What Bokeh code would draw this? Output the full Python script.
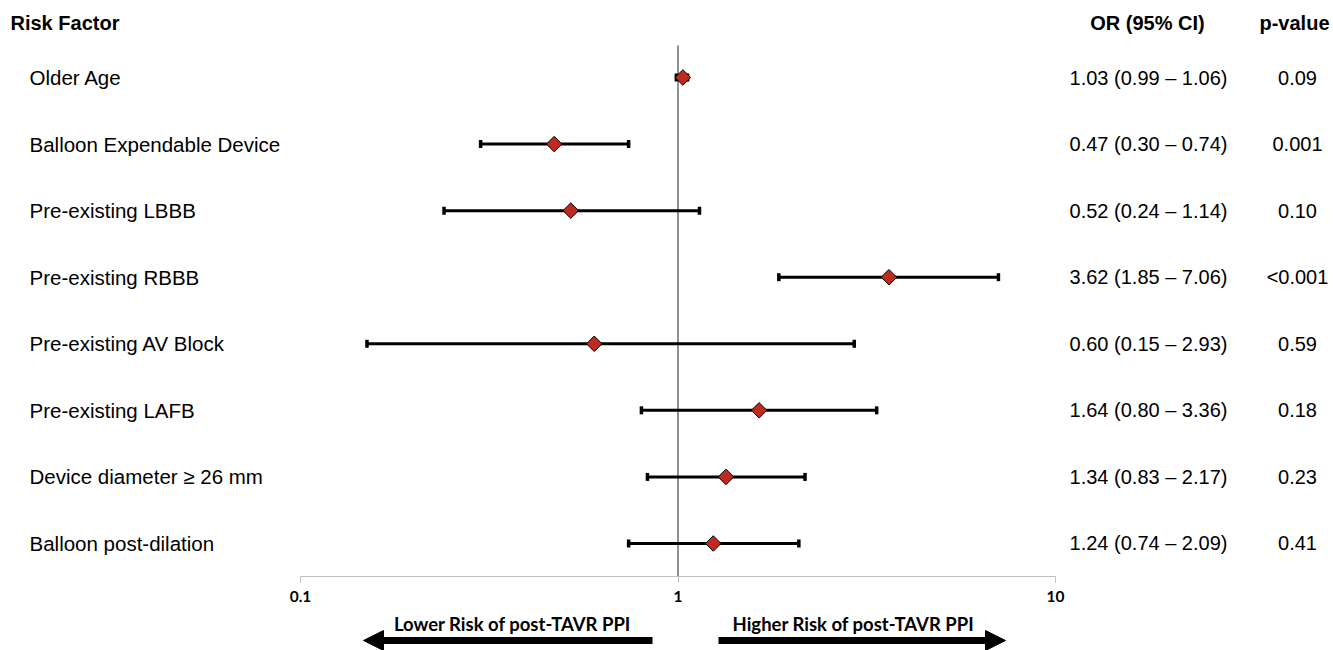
import numpy as np
from bokeh.plotting import figure
from bokeh.layouts import column
from bokeh.models import Range1d, FixedTicker, CustomJSTickFormatter, Arrow, NormalHead, ColumnDataSource
from bokeh.core.properties import value
from bokeh.embed import file_html
from bokeh.resources import INLINE

# ---- data ----
factors = ["Older Age", "Balloon Expendable Device", "Pre-existing LBBB", "Pre-existing RBBB",
           "Pre-existing AV Block", "Pre-existing LAFB", "Device diameter \u2265 26 mm", "Balloon post-dilation"]
odds = [1.03, 0.47, 0.52, 3.62, 0.60, 1.64, 1.34, 1.24]
ci_low = [0.99, 0.30, 0.24, 1.85, 0.15, 0.80, 0.83, 0.74]
ci_high = [1.06, 0.74, 1.14, 7.06, 2.93, 3.36, 2.17, 2.09]
p_values = ["0.09", "0.001", "0.10", "<0.001", "0.59", "0.18", "0.23", "0.41"]
tick_values = [0.1, 1, 10]
left_label = "Lower Risk of post-TAVR PPI"
right_label = "Higher Risk of post-TAVR PPI"

rows = list(range(len(factors)))
or_text = [f"{o:.2f} ({l:.2f} \u2013 {h:.2f})" for o, l, h in zip(odds, ci_low, ci_high)]

src = ColumnDataSource(dict(y=rows, factor=factors, odds=odds, lo=ci_low, hi=ci_high,
                            ortxt=or_text, p=p_values))

# ---- layout constants (log-space positions) ----
PPD = 377.5  # pixels per decade
def lx(px):  # pixel x to data x
    return 10 ** (-1 + (px - 300) / PPD)

W = 1333
x_range = Range1d(lx(0), lx(W))
FONT = value("Liberation Sans")
CAL = value("Lato")

top = figure(width=W, height=608, x_axis_type="log", x_range=x_range,
             y_range=Range1d(7.496, -1.1567), output_backend="svg", toolbar_location=None,
             y_axis_location=None, min_border_left=0, min_border_right=0, min_border_top=0,
             min_border_bottom=32)
top.outline_line_color = None
top.grid.visible = False
top.background_fill_color = "white"

ax = top.xaxis[0]
ax.bounds = (0.1, 10)
ax.ticker = FixedTicker(ticks=tick_values, minor_ticks=[])
ax.formatter = CustomJSTickFormatter(code="return tick.toString()")
ax.axis_line_color = "#BFBFBF"
ax.major_tick_line_color = "#BFBFBF"
ax.minor_tick_line_color = None
ax.major_tick_out = 6
ax.major_tick_in = 0
ax.major_label_standoff = 8
ax.major_label_text_font = "Lato"
ax.major_label_text_font_style = "bold"
ax.major_label_text_font_size = "15.5px"
ax.major_label_text_color = "black"

# reference line at OR = 1
top.segment(x0=[1], y0=[-0.481], x1=[1], y1=[7.6], line_color="#222222", line_width=1)

# CI lines and caps
top.segment(x0="lo", y0="y", x1="hi", y1="y", source=src, line_color="black", line_width=3)
top.rect(x="lo", y="y", width=3.5, height=8, width_units="screen", height_units="screen",
         source=src, fill_color="black", line_color=None)
top.rect(x="hi", y="y", width=3.5, height=8, width_units="screen", height_units="screen",
         source=src, fill_color="black", line_color=None)

# diamonds
top.scatter(x="odds", y="y", source=src, marker="square", angle=np.pi / 4, size=11,
            fill_color="#BE2A1E", line_color="black", line_width=1)

# headers
hy = -0.8112
top.text(x=[lx(10)], y=[hy], text=["Risk Factor"], text_font=FONT, text_font_style="bold",
         text_font_size="20px", text_baseline="middle", text_align="left", text_color="black")
top.text(x=[lx(1147)], y=[hy], text=["OR (95% CI)"], text_font=FONT, text_font_style="bold",
         text_font_size="20px", text_baseline="middle", text_align="center", text_color="black")
top.text(x=[lx(1294)], y=[hy], text=["p-value"], text_font=FONT, text_font_style="bold",
         text_font_size="20px", text_baseline="middle", text_align="center", text_color="black")

# row texts
top.text(x=lx(29), y="y", text="factor", source=src, text_font=FONT, text_font_size="20.5px",
         text_baseline="middle", text_align="left", text_color="black")
top.text(x=lx(1148), y="y", text="ortxt", source=src, text_font=FONT, text_font_size="20px",
         text_baseline="middle", text_align="center", text_color="black")
top.text(x=lx(1297), y="y", text="p", source=src, text_font=FONT, text_font_size="20px",
         text_baseline="middle", text_align="center", text_color="black")

# ---- bottom arrows ----
bot = figure(width=W, height=42, x_axis_type="log", x_range=x_range, y_range=Range1d(0, 42),
             output_backend="svg", toolbar_location=None, x_axis_location=None,
             y_axis_location=None, min_border_left=0, min_border_right=0, min_border_top=0,
             min_border_bottom=0)
bot.outline_line_color = None
bot.grid.visible = False

bot.add_layout(Arrow(end=NormalHead(size=20, fill_color="black", line_color="black"),
                     x_start=lx(652), y_start=10, x_end=lx(363), y_end=10,
                     line_width=7, line_color="black"))
bot.add_layout(Arrow(end=NormalHead(size=20, fill_color="black", line_color="black"),
                     x_start=lx(718), y_start=10, x_end=lx(1005), y_end=10,
                     line_width=7, line_color="black"))
bot.text(x=[lx(512), lx(853)], y=[27, 27], text=[left_label, right_label], text_font=CAL,
         text_font_style="bold", text_font_size="18.5px", text_baseline="middle",
         text_align="center", text_color="black")

layout = column(top, bot, spacing=0)
open("out.html", "w").write(file_html(layout, INLINE))
